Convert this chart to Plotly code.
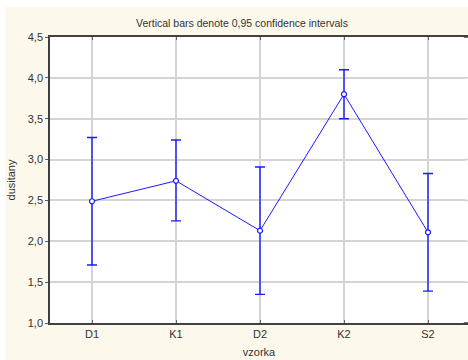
import plotly.graph_objects as go

# Sample groups and their means with 0.95 confidence limits
categories = ["D1", "K1", "D2", "K2", "S2"]
means = [2.49, 2.74, 2.13, 3.80, 2.11]
upper = [3.27, 3.24, 2.91, 4.10, 2.83]
lower = [1.71, 2.25, 1.35, 3.50, 1.39]

y_ticks = [1.0, 1.5, 2.0, 2.5, 3.0, 3.5, 4.0, 4.5]

err_plus = [u - m for u, m in zip(upper, means)]
err_minus = [m - l for m, l in zip(means, lower)]

blue = "#1a1aff"
bg = "#fdf8ec"
grid = "#d4d4d4"
axis_col = "#404040"
font = "Liberation Sans, Arial, sans-serif"

fig = go.Figure()
fig.add_trace(go.Scatter(
    x=list(range(len(categories))),
    y=means,
    mode="lines+markers",
    line=dict(color=blue, width=1),
    marker=dict(symbol="circle", size=5, color="white",
                line=dict(color=blue, width=1.2)),
    error_y=dict(type="data", symmetric=False, array=err_plus,
                 arrayminus=err_minus, color=blue, thickness=1.4, width=5),
    showlegend=False,
    cliponaxis=False,
))

# the plotting area runs on past the right page edge
edge_shapes = [
    dict(type="rect", xref="paper", yref="paper",
         x0=0.995, x1=1.1, y0=0, y1=1,
         fillcolor="white", line=dict(width=0), layer="above"),
]
for t in y_ticks[1:-1]:
    edge_shapes.append(dict(type="line", xref="paper", yref="y",
                            x0=0.99, x1=1.1, y0=t, y1=t,
                            line=dict(color=grid, width=1.5), layer="above"))
for yy in (0, 1):
    edge_shapes.append(dict(type="line", xref="paper", yref="paper",
                            x0=0.99, x1=1.1, y0=yy, y1=yy,
                            line=dict(color=axis_col, width=1.5), layer="above"))

fig.update_layout(
    width=468, height=360,
    margin=dict(l=50, r=0, t=37, b=37, pad=0, autoexpand=False),
    paper_bgcolor=bg,
    plot_bgcolor="white",
    separators=",.",
    font=dict(family=font, size=11, color="#333333"),
    title=dict(text="Vertical bars denote 0,95 confidence intervals",
               x=0.517, xanchor="center", y=1 - 23 / 360, yanchor="middle",
               font=dict(family=font, size=10.5, color="#333333")),
    xaxis=dict(
        range=[-0.5, 4.476],
        tickmode="array",
        tickvals=list(range(len(categories))),
        ticktext=categories,
        showgrid=True, gridcolor=grid, gridwidth=1.5,
        showline=True, linecolor=axis_col, linewidth=1.5, mirror="ticks",
        ticks="inside", ticklen=3, tickcolor="#606060",
        zeroline=False,
        automargin=False,
        title=dict(text="vzorka", standoff=9,
                   font=dict(family=font, size=11, color="#333333")),
    ),
    yaxis=dict(
        range=[1.0, 4.5],
        tickmode="array",
        tickvals=y_ticks,
        tickformat=".1f",
        showgrid=True, gridcolor=grid, gridwidth=1.5,
        showline=True, linecolor=axis_col, linewidth=1.5, mirror=False,
        ticks="outside", ticklen=3, tickcolor="#606060",
        zeroline=False,
        automargin=False,
        title=dict(text="dusitany", standoff=10,
                   font=dict(family=font, size=11, color="#333333")),
    ),
    shapes=[
        # white strips at the top and left edges of the page
        dict(type="rect", xref="paper", yref="paper",
             x0=-50 / 418, x1=1.1, y0=1 + 30 / 286, y1=1.2,
             fillcolor="white", line=dict(width=0), layer="below"),
        dict(type="rect", xref="paper", yref="paper",
             x0=-0.2, x1=-45 / 418, y0=-0.2, y1=1.2,
             fillcolor="white", line=dict(width=0), layer="below"),
    ] + edge_shapes,
)

fig.write_html("out.html")
